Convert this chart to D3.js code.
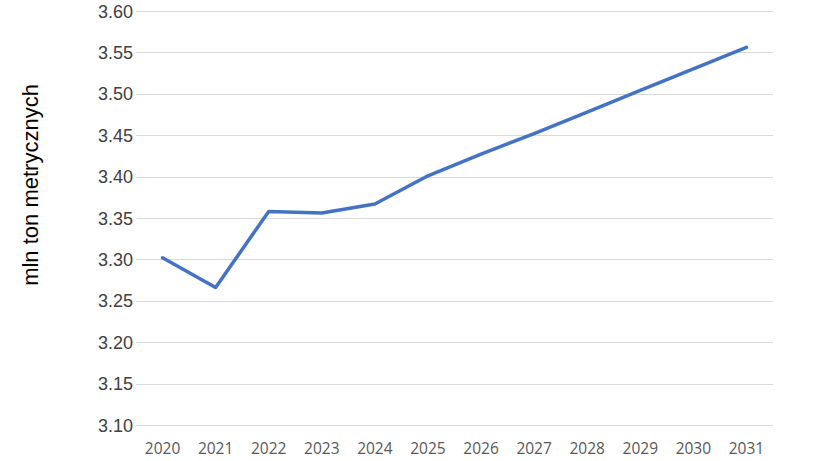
<!DOCTYPE html>
<html><head><meta charset="utf-8">
<script src="https://cdn.jsdelivr.net/npm/d3@7"></script>
<style>body{margin:0;background:#fff}svg{display:block}</style>
</head><body>
<svg id="c" width="820" height="461"></svg>
<script>
const years = ["2020","2021","2022","2023","2024","2025","2026","2027","2028","2029","2030","2031"];
const values = [3.302, 3.266, 3.358, 3.356, 3.367, 3.401, 3.427, 3.452, 3.478, 3.504, 3.530, 3.556];
const yTicks = [3.10, 3.15, 3.20, 3.25, 3.30, 3.35, 3.40, 3.45, 3.50, 3.55, 3.60];
const yTitle = "mln ton metrycznych";

const svg = d3.select("#c");
const L = 136, R = 773, T = 11, B = 425;
const x = d3.scaleBand().domain(years).range([L, R]);
const y = d3.scaleLinear().domain([3.10, 3.60]).range([B, T]);

svg.append("g").selectAll("line").data(yTicks).join("line")
  .attr("x1", L).attr("x2", R)
  .attr("y1", d => Math.round(y(d)) + 0.5).attr("y2", d => Math.round(y(d)) + 0.5)
  .attr("stroke", "#d9d9d9").attr("stroke-width", 1);

svg.append("g").selectAll("text").data(yTicks).join("text")
  .attr("x", 133).attr("y", d => y(d) + 6.5)
  .attr("text-anchor", "end")
  .attr("font-family", "Liberation Sans, Arial, sans-serif")
  .attr("font-size", 18).attr("fill", "#404040")
  .text(d => d.toFixed(2));

svg.append("g").selectAll("text").data(years).join("text")
  .attr("x", d => x(d) + x.bandwidth() / 2).attr("y", 454)
  .attr("text-anchor", "middle")
  .attr("font-family", "Open Sans, sans-serif")
  .attr("font-size", 15.5).attr("fill", "#595959")
  .text(d => d);

svg.append("text")
  .attr("transform", "translate(38,185) rotate(-90)")
  .attr("text-anchor", "middle")
  .attr("font-family", "Liberation Sans, Arial, sans-serif")
  .attr("font-size", 22).attr("fill", "#000")
  .text(yTitle);

const line = d3.line().x((d, i) => x(years[i]) + x.bandwidth() / 2).y(d => y(d));
svg.append("path").datum(values)
  .attr("d", line).attr("fill", "none")
  .attr("stroke", "#4472C4").attr("stroke-width", 3.5)
  .attr("stroke-linejoin", "round").attr("stroke-linecap", "round");
</script>
</body></html>
